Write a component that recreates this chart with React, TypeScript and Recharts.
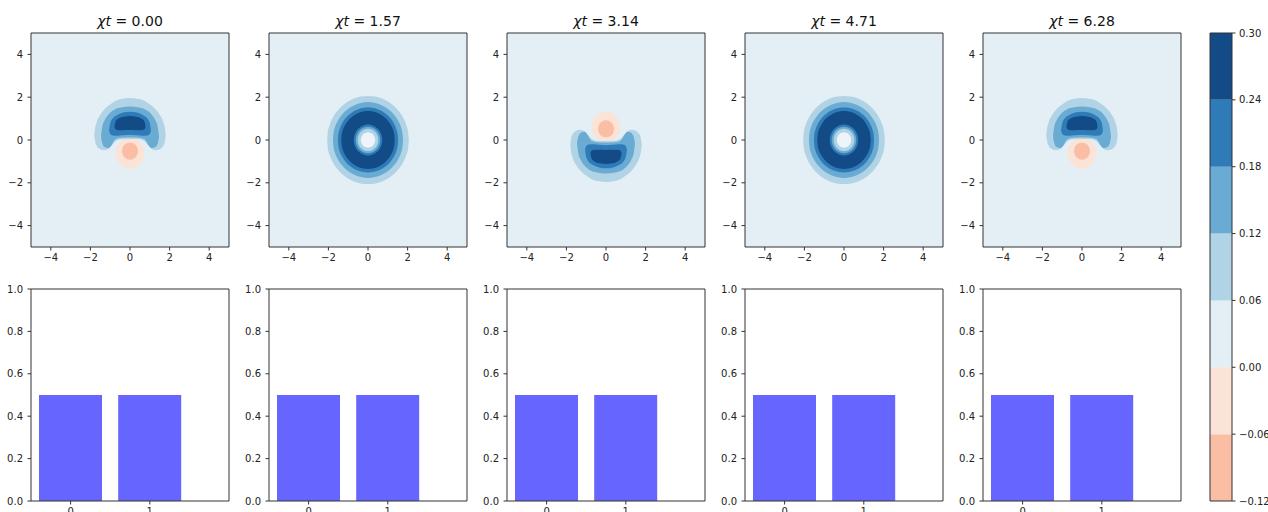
import React from 'react';
import { ComposedChart, Area, XAxis, YAxis, BarChart, Bar } from 'recharts';

// ---------- data ----------
const panelTimes = ['0.00', '1.57', '3.14', '4.71', '6.28'];
const phaseTicks = [-4, -2, 0, 2, 4];
const probTicks = [0, 0.2, 0.4, 0.6, 0.8, 1.0];
const fockStates = [0, 1];
const fockProbs = [0.5, 0.5];
const levels = [-0.12, -0.06, 0, 0.06, 0.12, 0.18, 0.24, 0.3];
const levelColors = ['#f9bea3', '#fbe4d7', '#e4eef5', '#b1d3e6', '#6aabd4', '#2f7bb8', '#134b87'];
const centerColor = '#eef4f9';

// unit circle outline (upper half profile)
const circleU = [-1, -0.985, -0.94, -0.866, -0.766, -0.643, -0.5, -0.342, -0.174, 0, 0.174, 0.342, 0.5, 0.643, 0.766, 0.866, 0.94, 0.985, 1];
const circleV = [0, 0.174, 0.342, 0.5, 0.643, 0.766, 0.866, 0.94, 0.985, 1, 0.985, 0.94, 0.866, 0.766, 0.643, 0.5, 0.342, 0.174, 0];

type Pt = [number, number, number];

// cat state contours (left half: x, lower, upper)
const catBand06: Pt[] = [
  [-1.8, 0.2, 0.28], [-1.76, -0.08, 0.55], [-1.66, -0.3, 0.9], [-1.5, -0.43, 1.18], [-1.3, -0.48, 1.42],
  [-1.1, -0.42, 1.6], [-0.92, -0.26, 1.72], [-0.75, -0.07, 1.82], [-0.45, 0.03, 1.92], [0, 0.05, 1.96],
];
const catBand12: Pt[] = [
  [-1.46, 0.12, 0.2], [-1.4, -0.15, 0.62], [-1.28, -0.33, 0.92], [-1.1, -0.38, 1.18], [-0.92, -0.22, 1.34],
  [-0.75, 0.02, 1.44], [-0.45, 0.1, 1.52], [0, 0.12, 1.56],
];
const catBand18: Pt[] = [
  [-1.05, 0.42, 0.52], [-1.0, 0.28, 0.78], [-0.88, 0.21, 1.0], [-0.65, 0.2, 1.17], [-0.35, 0.22, 1.28], [0, 0.24, 1.32],
];
const catBand24: Pt[] = [
  [-0.78, 0.6, 0.68], [-0.73, 0.5, 0.86], [-0.58, 0.46, 1.0], [-0.32, 0.46, 1.09], [0, 0.47, 1.12],
];
const catNegHalo = { cy: -0.62, r: 0.72 };
const catNegCore = { cy: -0.52, r: 0.4 };

// rotated (ring) state contour radii
const ringOuterRadii = [2.06, 1.77, 1.52, 1.35];
const ringInnerRadii = [0.72, 0.62, 0.52];
const ringCenterRadius = 0.36;

// ---------- helpers ----------
type Shape = { color: string; pts: Pt[]; linear?: boolean };

function mirrorHalf(half: Pt[]): Pt[] {
  const right = half.slice(0, -1).reverse().map(([x, lo, hi]) => [-x, lo, hi] as Pt);
  return [...half, ...right];
}
function circlePts(cy: number, r: number): Pt[] {
  return circleU.map((u, i) => [r * u, cy - r * circleV[i], cy + r * circleV[i]] as Pt);
}
function flipY(pts: Pt[]): Pt[] {
  return pts.map(([x, lo, hi]) => [x, -hi, -lo] as Pt);
}
const bgShape: Shape = { color: levelColors[2], pts: [[-5, -5, 5], [5, -5, 5]], linear: true };

const catUp: Shape[] = [
  bgShape,
  { color: levelColors[1], pts: circlePts(catNegHalo.cy, catNegHalo.r) },
  { color: levelColors[0], pts: circlePts(catNegCore.cy, catNegCore.r) },
  { color: levelColors[3], pts: mirrorHalf(catBand06) },
  { color: levelColors[4], pts: mirrorHalf(catBand12) },
  { color: levelColors[5], pts: mirrorHalf(catBand18) },
  { color: levelColors[6], pts: mirrorHalf(catBand24) },
];
const catDown: Shape[] = catUp.map((s, i) => (i === 0 ? s : { ...s, pts: flipY(s.pts) }));
const ring: Shape[] = [
  bgShape,
  ...ringOuterRadii.map((r, i) => ({ color: levelColors[3 + i], pts: circlePts(0, r) })),
  ...ringInnerRadii.map((r, i) => ({ color: levelColors[5 - i], pts: circlePts(0, r) })),
  { color: centerColor, pts: circlePts(0, ringCenterRadius) },
];
const panelShapes = [catUp, ring, catDown, ring, catUp];

function buildTable(shapes: Shape[]) {
  const key = (v: number) => +v.toFixed(4);
  const xs = new Set<number>();
  shapes.forEach((s) => s.pts.forEach((p) => xs.add(key(p[0]))));
  const sorted = [...xs].sort((a, b) => a - b);
  return sorted.map((x) => {
    const row: any = { x };
    shapes.forEach((s, k) => {
      const p = s.pts.find((q) => key(q[0]) === x);
      row['s' + k] = p ? [p[1], p[2]] : null;
    });
    return row;
  });
}

const fockRows = fockStates.map((n, i) => ({ n, p: fockProbs[i] }));
const cbRow = (x: number) => {
  const row: any = { x };
  levelColors.forEach((_, i) => (row['b' + i] = [levels[i], levels[i + 1]]));
  return row;
};
const cbRows = [cbRow(0), cbRow(1)];

// ---------- layout / style ----------
const FONT = '"DejaVu Sans", sans-serif';
const AX = '#333';
const PLOT_LEFT0 = 31;
const PLOT_STEP = 238;
const tickStyle = { fontSize: 10, fill: '#222', fontFamily: FONT };
const minus = (s: string) => s.replace('-', '\u2212');

function TopPanel({ idx }: { idx: number }) {
  const shapes = panelShapes[idx];
  const rows = buildTable(shapes);
  const left = PLOT_LEFT0 + PLOT_STEP * idx;
  return (
    <>
      <div
        style={{
          position: 'absolute', left: left - 20, width: 238, top: 14, textAlign: 'center',
          fontSize: 14, lineHeight: '14px', fontFamily: FONT, color: '#111', whiteSpace: 'pre',
        }}
      >
        <span style={{ fontStyle: 'italic' }}>χt</span>
        {' = ' + panelTimes[idx]}
      </div>
      <div style={{ position: 'absolute', left: left - 35, top: 28 }}>
        <ComposedChart width={238} height={244} data={rows} margin={{ top: 4, right: 4, left: 0, bottom: 0 }}>
          {shapes.map((s, k) => (
            <Area
              key={k}
              dataKey={'s' + k}
              type={s.linear ? 'linear' : 'monotone'}
              fill={s.color}
              fillOpacity={1}
              stroke="none"
              connectNulls
              dot={false}
              activeDot={false}
              isAnimationActive={false}
            />
          ))}
          <XAxis dataKey="x" type="number" domain={[-5, 5]} ticks={phaseTicks} allowDataOverflow height={25}
            tickSize={3.5} tickMargin={3.5} tick={tickStyle} tickFormatter={(v: number) => minus(String(v))}
            stroke={AX} tickLine={{ stroke: AX }} interval={0} />
          <XAxis xAxisId="top" orientation="top" type="number" domain={[-5, 5]} height={1} tick={false} tickLine={false} stroke={AX} />
          <YAxis type="number" domain={[-5, 5]} ticks={phaseTicks} allowDataOverflow width={35}
            tickSize={3.5} tickMargin={4.5} tick={tickStyle} tickFormatter={(v: number) => minus(String(v))}
            stroke={AX} tickLine={{ stroke: AX }} interval={0} />
          <YAxis yAxisId="right" orientation="right" type="number" domain={[-5, 5]} width={1} tick={false} tickLine={false} stroke={AX} />
        </ComposedChart>
      </div>
    </>
  );
}

function BottomPanel({ idx }: { idx: number }) {
  const left = PLOT_LEFT0 + PLOT_STEP * idx;
  return (
    <div style={{ position: 'absolute', left: left - 35, top: 284 }}>
      <BarChart width={238} height={242} data={fockRows} margin={{ top: 4, right: 4, left: 0, bottom: 0 }}>
        <Bar dataKey="p" fill="#6666ff" barSize={63} isAnimationActive={false} />
        <XAxis dataKey="n" type="number" domain={[-0.5, 2]} ticks={fockStates} allowDataOverflow height={25}
          tickSize={3.5} tickMargin={3.5} tick={tickStyle} stroke={AX} tickLine={{ stroke: AX }} interval={0} />
        <XAxis xAxisId="top" orientation="top" type="number" domain={[-0.5, 2]} height={1} tick={false} tickLine={false} stroke={AX} />
        <YAxis type="number" domain={[0, 1]} ticks={probTicks} allowDataOverflow width={35}
          tickSize={3.5} tickMargin={4.5} tick={tickStyle} tickFormatter={(v: number) => v.toFixed(1)}
          stroke={AX} tickLine={{ stroke: AX }} interval={0} />
        <YAxis yAxisId="right" orientation="right" type="number" domain={[0, 1]} width={1} tick={false} tickLine={false} stroke={AX} />
      </BarChart>
    </div>
  );
}

function ColorBar() {
  return (
    <div style={{ position: 'absolute', left: 1205, top: 28 }}>
      <ComposedChart width={72} height={478} data={cbRows} margin={{ top: 4, right: 0, left: 4, bottom: 4 }}>
        {levelColors.map((c, i) => (
          <Area key={i} dataKey={'b' + i} type="linear" fill={c} fillOpacity={1} stroke="none"
            dot={false} activeDot={false} isAnimationActive={false} />
        ))}
        <XAxis dataKey="x" type="number" domain={[0, 1]} height={1} tick={false} tickLine={false} stroke={AX} />
        <XAxis xAxisId="top" orientation="top" type="number" domain={[0, 1]} height={1} tick={false} tickLine={false} stroke={AX} />
        <YAxis yAxisId="left" type="number" domain={[-0.12, 0.3]} width={1} tick={false} tickLine={false} stroke={AX} />
        <YAxis orientation="right" type="number" domain={[-0.12, 0.3]} ticks={levels} allowDataOverflow width={45}
          tickSize={3.5} tickMargin={3.5} tick={tickStyle} tickFormatter={(v: number) => minus(v.toFixed(2))}
          stroke={AX} tickLine={{ stroke: AX }} interval={0} />
      </ComposedChart>
    </div>
  );
}

export default function App() {
  return (
    <div style={{ position: 'absolute', left: 0, top: 0, width: 1268, height: 512, overflow: 'hidden', background: '#fff', fontFamily: FONT }}>
      {panelTimes.map((_, i) => (
        <TopPanel key={'t' + i} idx={i} />
      ))}
      {panelTimes.map((_, i) => (
        <BottomPanel key={'b' + i} idx={i} />
      ))}
      <ColorBar />
    </div>
  );
}
